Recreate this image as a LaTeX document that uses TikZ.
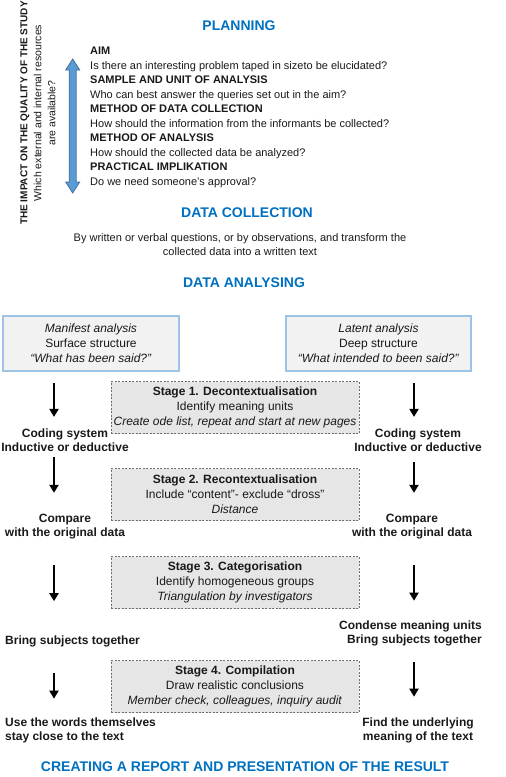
\documentclass[tikz,border=0pt]{standalone}
\usepackage{fontspec}
\setmainfont{Liberation Sans}
\usetikzlibrary{arrows.meta}
\definecolor{qaBlue}{RGB}{0,112,192}
\definecolor{qaArrowFill}{RGB}{91,155,213}
\definecolor{qaArrowLine}{RGB}{65,113,156}
\definecolor{qaBoxLine}{RGB}{157,195,230}
\definecolor{qaBoxFill}{RGB}{242,242,242}
\definecolor{qaStageFill}{RGB}{230,230,230}
\definecolor{qaDash}{RGB}{110,110,110}
\definecolor{qaInk}{RGB}{25,25,25}
\tikzset{
  qaHead/.style={font=\fontsize{14}{16}\selectfont\bfseries, text=qaBlue,
                 inner sep=0pt},
  qaText/.style={font=\fontsize{11}{14}\selectfont, text=qaInk, inner sep=0pt},
  qaList/.style={font=\fontsize{11}{14.5}\selectfont, text=qaInk, inner sep=0pt,
                 align=left},
  qaStep/.style={font=\fontsize{12}{14}\selectfont\bfseries, text=qaInk,
                 inner sep=0pt, align=center},
  qaAnalysis/.style={draw=qaBoxLine, line width=1.6pt, fill=qaBoxFill,
                     align=center, minimum height=55pt, inner sep=0pt,
                     font=\fontsize{12}{15}\selectfont, text=qaInk},
  qaStage/.style={draw=qaDash, line width=0.6pt, dash pattern=on 2pt off 1.5pt,
                  fill=qaStageFill, align=center, minimum width=248pt,
                  minimum height=52pt, inner sep=0pt,
                  font=\fontsize{12}{15}\selectfont, text=qaInk},
  qaArrow/.style={-{Triangle[length=8pt,width=9pt]}, line width=2.6pt,
                  draw=black},
  qaDouble/.style={draw=qaArrowLine, line width=0.8pt, fill=qaArrowFill,
                   line join=miter}
}

\begin{document}
\begin{tikzpicture}[x=1pt,y=-1pt]
  \useasboundingbox (0,0) rectangle (506,777);

  % planning
  \node[qaHead] (planning) at (239,26) {PLANNING};
  \node[qaList, anchor=north west] (planlist) at (90,47)
        {\textbf{AIM}\\
         Is there an interesting problem taped in sizeto be elucidated?\\
         \textbf{SAMPLE AND UNIT OF ANALYSIS}\\
         Who can best answer the queries set out in the aim?\\
         \textbf{METHOD OF DATA COLLECTION}\\
         How should the information from the informants be collected?\\
         \textbf{METHOD OF ANALYSIS}\\
         How should the collected data be analyzed?\\
         \textbf{PRACTICAL IMPLIKATION}\\
         Do we need someone's approval?};
  \node[qaText, font=\fontsize{10.5}{14}\selectfont, align=center, rotate=90]
        (impact) at (38,113)
        {{\fontsize{10}{14}\selectfont\bfseries THE IMPACT ON THE QUALITY OF THE STUDY}\\
         Which external and internal resources\\are available?};
  \coordinate (impactTop) at (72.7,59);
  \filldraw[qaDouble] (impactTop) -- ++(7,11) -- ++(-3.5,0) -- ++(0,112)
        -- ++(3.5,0) -- ++(-7,11) -- ++(-7,-11) -- ++(3.5,0) -- ++(0,-112)
        -- ++(-3.5,0) -- cycle;

  % data collection
  \node[qaHead] (collection) at (247,213) {DATA COLLECTION};
  \node[qaText, align=center] (collect) at (240,245)
        {By written or verbal questions, or by observations, and transform the\\
         collected data into a written text};

  % data analysing
  \node[qaHead] (analysing) at (244,283) {DATA ANALYSING};
  \node[qaAnalysis, minimum width=176pt] (manifest) at (91,343.5)
        {\textit{Manifest analysis}\\Surface structure\\
         \textit{``What has been said?''}};
  \node[qaAnalysis, minimum width=185pt] (latent) at (378.5,343.5)
        {\textit{Latent analysis}\\Deep structure\\
         \textit{``What intended to been said?''}};

  \node[qaStage] (stage1) at (235,407.5)
        {\textbf{Stage 1. Decontextualisation}\\Identify meaning units\\
         \textit{Create ode list, repeat and start at new pages}};
  \node[qaStage] (stage2) at (235,494.5)
        {\textbf{Stage 2. Recontextualisation}\\
         Include ``content''- exclude ``dross''\\\textit{Distance}};
  \node[qaStage] (stage3) at (235,582.5)
        {\textbf{Stage 3. Categorisation}\\Identify homogeneous groups\\
         \textit{Triangulation by investigators}};
  \node[qaStage] (stage4) at (235,686.5)
        {\textbf{Stage 4. Compilation}\\Draw realistic conclusions\\
         \textit{Member check, colleagues, inquiry audit}};

  \node[qaStep] (codeL) at (65,440) {Coding system\\Inductive or deductive};
  \node[qaStep] (codeR) at (418,440) {Coding system\\Inductive or deductive};
  \node[qaStep] (compL) at (65,527) {Compare\\with the original data};
  \node[qaStep] (compR) at (412,527) {Compare\\with the original data};
  \node[qaStep, anchor=west] (bringL) at (5,641) {Bring subjects together};
  \node[qaStep, align=right, anchor=east] (bringR) at (482,633)
        {Condense meaning units\\Bring subjects together};
  \node[qaStep, align=left, anchor=west] (wordsL) at (5,730)
        {Use the words themselves\\stay close to the text};
  \node[qaStep] (findR) at (418,730) {Find the underlying\\meaning of the text};

  \coordinate (colL) at (54,0);
  \coordinate (colR) at (414,0);
  \draw[qaArrow, shorten <=11pt, shorten >=11.5pt] (manifest.south -| colL) -- (codeL.north -| colL);
  \draw[qaArrow, shorten <=5.5pt, shorten >=21.5pt] (codeL.south -| colL) -- (compL.north -| colL);
  \draw[qaArrow, shorten <=25.5pt, shorten >=34pt] (compL.south -| colL) -- (bringL.north -| colL);
  \draw[qaArrow, shorten <=26.5pt, shorten >=18.5pt] (bringL.south -| colL) -- (wordsL.north -| colL);
  \draw[qaArrow, shorten <=11pt, shorten >=11.5pt] (latent.south -| colR) -- (codeR.north -| colR);
  \draw[qaArrow, shorten <=10.5pt, shorten >=21.5pt] (codeR.south -| colR) -- (compR.north -| colR);
  \draw[qaArrow, shorten <=25.5pt, shorten >=19.5pt] (compR.south -| colR) -- (bringR.north -| colR);
  \draw[qaArrow, shorten <=16pt, shorten >=20.5pt] (bringR.south -| colR) -- (findR.north -| colR);

  \node[qaHead] (report) at (245,767)
        {CREATING A REPORT AND PRESENTATION OF THE RESULT};
\end{tikzpicture}
\end{document}
